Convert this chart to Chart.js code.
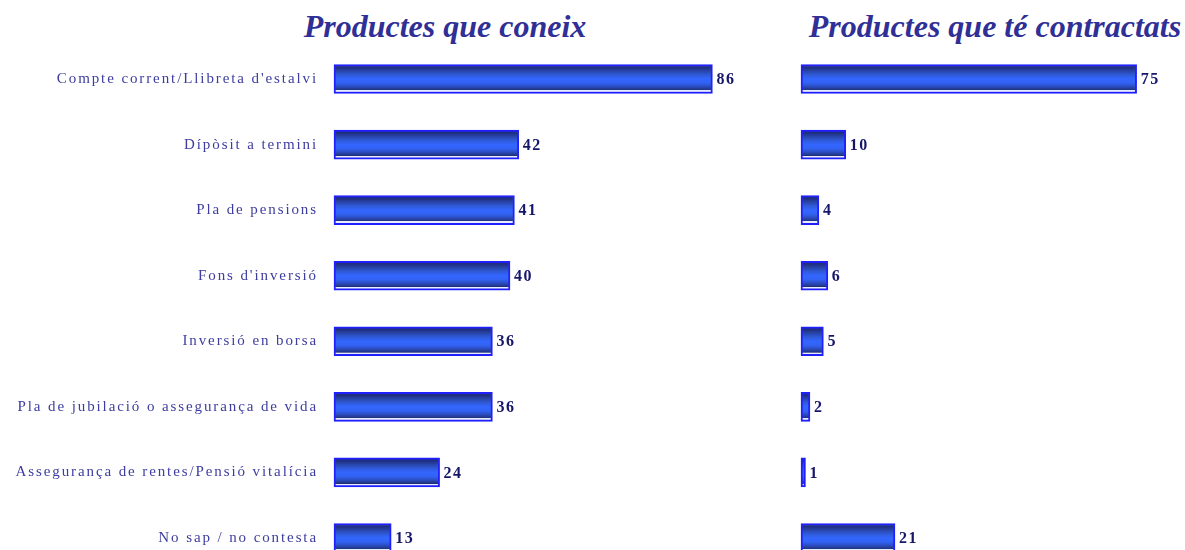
<!DOCTYPE html>
<html>
<head>
<meta charset="utf-8">
<script src="https://cdn.jsdelivr.net/npm/chart.js@4.4.1/dist/chart.umd.min.js"></script>
<style>
  body { margin: 0; background: #fff; }
  .wrap { position: relative; width: 1185px; height: 550px; overflow: hidden; }
  .title {
    position: absolute; top: 8px;
    font: italic bold 32px 'Liberation Serif', serif;
    color: #2f2f96; text-align: center; white-space: nowrap;
  }
  #t1 { left: 0; width: 890px; }
  #t2 { left: 805px; width: 380px; }
  .box { position: absolute; top: 0; height: 550px; }
  #b1 { left: 0; width: 780px; }
  #b2 { left: 780px; width: 405px; }
</style>
</head>
<body>
<div class="wrap">
  <div class="title" id="t1">Productes que coneix</div>
  <div class="title" id="t2">Productes que té contractats</div>
  <div class="box" id="b1"><canvas id="chart-1"></canvas></div>
  <div class="box" id="b2"><canvas id="chart-2"></canvas></div>
</div>
<script>
const categories = [
  'Compte corrent/Llibreta d\'estalvi',
  'Dípòsit a termini',
  'Pla de pensions',
  'Fons d\'inversió',
  'Inversió en borsa',
  'Pla de jubilació o assegurança de vida',
  'Assegurança de rentes/Pensió vitalícia',
  'No sap / no contesta',
];
const coneix = [86, 42, 41, 40, 36, 36, 24, 13];
const contractats = [75, 10, 4, 6, 5, 2, 1, 21];

const BAR_H = 29;

// vertical shading inside each bar, built around the bar's own centre
function barFill(c) {
  const chart = c.chart;
  const y = chart.scales.y;
  if (!y || c.dataIndex === undefined) return '#3366ff';
  const mid = y.getPixelForValue(c.dataIndex);
  if (!isFinite(mid)) return '#3366ff';
  const g = chart.ctx.createLinearGradient(0, mid - BAR_H / 2, 0, mid + BAR_H / 2);
  g.addColorStop(0, '#1e2c78');
  g.addColorStop(0.1, '#1f2f80');
  g.addColorStop(0.22, '#2844a8');
  g.addColorStop(0.36, '#2f5ad8');
  g.addColorStop(0.5, '#3366ff');
  g.addColorStop(0.64, '#3262f2');
  g.addColorStop(0.76, '#2b4cc0');
  g.addColorStop(0.86, '#223788');
  g.addColorStop(0.885, '#1e2c70');
  g.addColorStop(0.89, '#e8ecff');
  g.addColorStop(1, '#e8ecff');
  return g;
}

const spacing = {
  id: 'spacing',
  beforeDraw(chart) {
    chart.ctx.letterSpacing = '1.9px';
  }
};

const valueLabels = {
  id: 'valueLabels',
  afterDatasetsDraw(chart) {
    const ctx = chart.ctx;
    const meta = chart.getDatasetMeta(0);
    const data = chart.data.datasets[0].data;
    ctx.save();
    ctx.font = 'bold 16px "Liberation Serif"';
    ctx.fillStyle = '#16166a';
    ctx.letterSpacing = '1.5px';
    ctx.textBaseline = 'middle';
    ctx.textAlign = 'left';
    meta.data.forEach((bar, i) => {
      ctx.fillText(String(data[i]), bar.x + 4, bar.y + 1);
    });
    ctx.restore();
  }
};

function makeChart(id, values, xMax, padding, labelWidth) {
  const ctx = document.getElementById(id).getContext('2d');
  return new Chart(ctx, {
    type: 'bar',
    data: {
      labels: categories,
      datasets: [{
        data: values,
        backgroundColor: barFill,
        borderColor: '#2020ff',
        borderWidth: 2,
        borderSkipped: false,
        barThickness: BAR_H,
        clip: false,
      }]
    },
    options: {
      indexAxis: 'y',
      responsive: true,
      maintainAspectRatio: false,
      animation: false,
      layout: { padding: padding },
      scales: {
        x: {
          display: false,
          min: 0,
          max: xMax,
        },
        y: {
          display: labelWidth > 0,
          offset: false,
          grid: { display: false, drawTicks: false },
          border: { display: false },
          ticks: {
            padding: 16,
            color: '#3d3da0',
            font: { family: 'Liberation Serif', size: 15 },
          },
          afterFit: (scale) => {
            scale.width = labelWidth;
            scale.paddingTop = 0;
            scale.paddingBottom = 0;
          },
        },
      },
      plugins: {
        legend: { display: false },
        tooltip: { enabled: false },
      },
    },
    plugins: [spacing, valueLabels],
  });
}

makeChart('chart-1', coneix, 100, { top: 79, bottom: 12, left: 0, right: 6 }, 334);
makeChart('chart-2', contractats, 80, { top: 79, bottom: 12, left: 21, right: 26 }, 0);
</script>
</body>
</html>
